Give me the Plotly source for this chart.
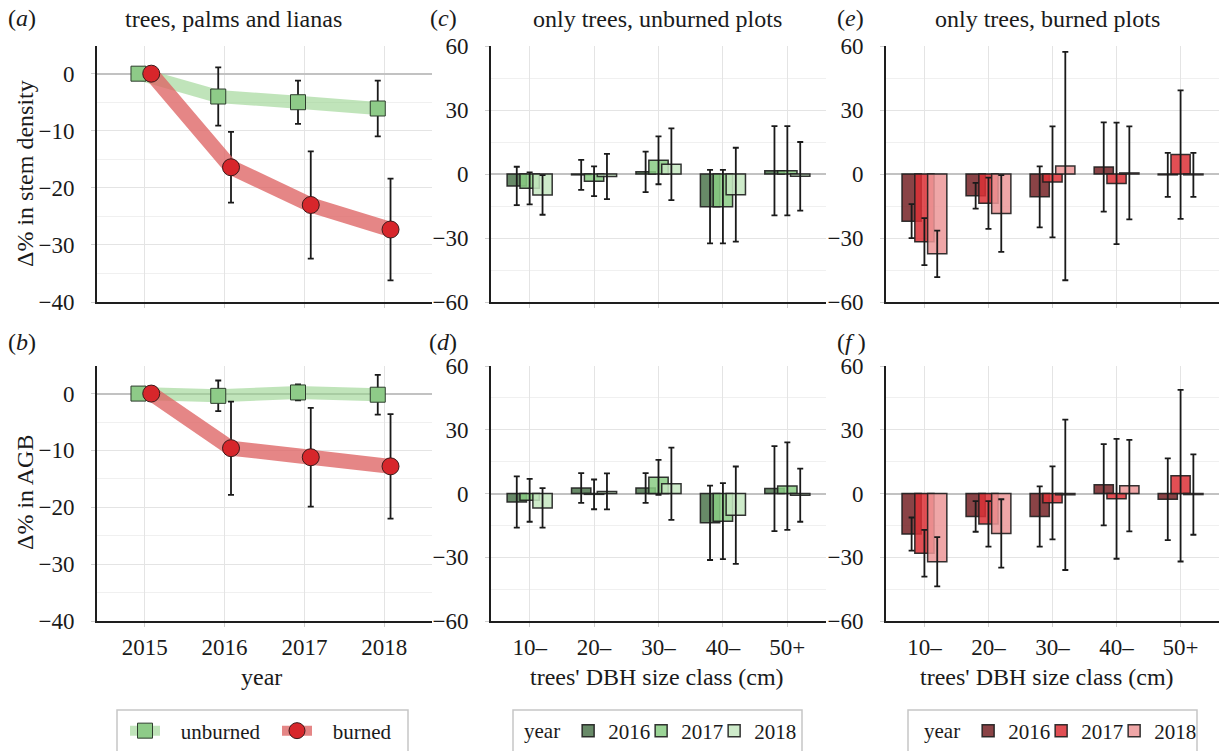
import plotly.graph_objects as go

# ---------------- data ----------------
years = [2015, 2016, 2017, 2018]
stem_unburned = [0, -4.0, -5.0, -6.1]
stem_unburned_err = [0, 5.1, 3.8, 4.9]
stem_burned = [0, -16.4, -23.0, -27.3]
stem_burned_err = [0, 6.2, 9.4, 8.9]
agb_unburned = [0, -0.4, 0.2, -0.2]
agb_unburned_err = [0, 2.7, 1.4, 3.5]
agb_burned = [0, -9.6, -11.2, -12.8]
agb_burned_err = [0, 8.2, 8.7, 9.2]

dbh_classes = ["10–", "20–", "30–", "40–", "50+"]
bar_years = ["2016", "2017", "2018"]

# (c) stem density, unburned
c_vals = {"2016": [-5.6, -0.4, 1.0, -15.3, 1.5],
          "2017": [-6.7, -3.4, 6.4, -15.3, 1.5],
          "2018": [-9.8, -1.2, 4.6, -9.7, -1.1]}
c_errs = {"2016": [9.0, 7.0, 9.5, 17.2, 20.9],
          "2017": [7.5, 7.0, 11.2, 17.2, 20.9],
          "2018": [9.3, 10.6, 16.8, 22.0, 16.1]}
# (d) AGB, unburned
d_vals = {"2016": [-4.0, 2.6, 2.6, -13.8, 2.3],
          "2017": [-3.2, -0.4, 7.6, -13.0, 3.5],
          "2018": [-6.8, 1.0, 4.6, -10.2, -0.8]}
d_errs = {"2016": [12.1, 7.0, 7.0, 17.5, 20.0],
          "2017": [10.1, 7.0, 8.2, 17.9, 20.6],
          "2018": [9.3, 8.5, 17.0, 22.9, 12.5]}
# (e) stem density, burned
e_vals = {"2016": [-22.1, -10.2, -10.7, 3.3, -0.4],
          "2017": [-31.7, -13.7, -3.7, -4.4, 9.1],
          "2018": [-37.4, -18.5, 3.7, 0.5, -0.4]}
e_errs = {"2016": [8.0, 6.0, 14.3, 20.9, 10.3],
          "2017": [11.0, 12.0, 26.0, 28.5, 30.1],
          "2018": [10.9, 18.0, 53.5, 21.8, 10.3]}
# (f) AGB, burned
f_vals = {"2016": [-19.1, -10.8, -10.8, 4.1, -2.7],
          "2017": [-28.1, -14.3, -4.4, -2.5, 8.4],
          "2018": [-32.1, -18.8, -0.6, 3.7, -0.5]}
f_errs = {"2016": [7.8, 7.2, 14.2, 19.1, 19.2],
          "2017": [11.0, 10.7, 17.2, 28.2, 40.4],
          "2018": [11.6, 16.1, 35.4, 21.5, 18.9]}

# ---------------- styles ----------------
W, H = 1219, 751
FONT = "Liberation Serif"
TXT = "#1a1a1a"
green_cols = {"2016": "rgba(78,118,78,0.85)", "2017": "rgba(138,204,132,0.85)", "2018": "rgba(198,231,193,0.85)"}
red_cols = {"2016": "rgba(118,34,38,0.85)", "2017": "rgba(220,48,54,0.85)", "2018": "rgba(236,150,152,0.85)"}
bar_offsets = {"2016": -0.35, "2017": -0.15, "2018": 0.05}
BAR_W = 0.3
DODGE = 0.08
PAD = "\u00a0\u00a0\u00a0"


def px_x(a, b):
    return [a / W, b / W]


def px_y(top, bottom):
    return [1 - bottom / H, 1 - top / H]


col_dom = [px_x(97, 432), px_x(491, 826), px_x(886, 1219)]
row_dom = [px_y(46, 302), px_y(366, 621)]

fig = go.Figure()

err_style = dict(type="data", visible=True, color="#1a1a1a", thickness=1.8, width=3)

# ---- panels a, b ----
line_panels = [
    ("x", "y", stem_unburned, stem_unburned_err, stem_burned, stem_burned_err, True),
    ("x4", "y4", agb_unburned, agb_unburned_err, agb_burned, agb_burned_err, False),
]
for xa, ya, ub, ube, b, be, show in line_panels:
    fig.add_trace(go.Scatter(
        x=[yr - DODGE for yr in years], y=ub, xaxis=xa, yaxis=ya,
        mode="lines+markers", name=PAD + "unburned", legend="legend", showlegend=show,
        line=dict(color="rgba(150,210,140,0.6)", width=13),
        marker=dict(symbol="square", size=15, color="#8ecb88", line=dict(color="#2d3d2d", width=1)),
        error_y=dict(array=ube, **err_style)))
    fig.add_trace(go.Scatter(
        x=[yr + DODGE for yr in years], y=b, xaxis=xa, yaxis=ya,
        mode="lines+markers", name=PAD + "burned", legend="legend", showlegend=show,
        line=dict(color="rgba(222,100,100,0.78)", width=15),
        marker=dict(symbol="circle", size=17, color="#d7262b", line=dict(color="#3a1a1a", width=1)),
        error_y=dict(array=be, **err_style)))

# ---- bar panels ----
bar_panels = [
    ("x2", "y2", c_vals, c_errs, green_cols, "legend2", True),
    ("x5", "y5", d_vals, d_errs, green_cols, "legend2", False),
    ("x3", "y3", e_vals, e_errs, red_cols, "legend3", True),
    ("x6", "y6", f_vals, f_errs, red_cols, "legend3", False),
]
for xa, ya, vals, errs, cols, leg, show in bar_panels:
    for yr in bar_years:
        fig.add_trace(go.Bar(
            x=dbh_classes, y=vals[yr], xaxis=xa, yaxis=ya, name=yr,
            legend=leg, showlegend=show,
            width=BAR_W, offset=bar_offsets[yr],
            marker=dict(color=cols[yr], line=dict(color="rgba(30,30,30,0.9)", width=1.5)),
            error_y=dict(array=errs[yr], **err_style)))
    if show:
        # invisible spacer entry so the last legend label is not clipped
        fig.add_trace(go.Bar(
            x=[dbh_classes[0]], y=[0], xaxis=xa, yaxis=ya, name="\u00a0", legend=leg,
            showlegend=True, hoverinfo="skip", width=BAR_W,
            marker=dict(color="rgba(0,0,0,0)", line=dict(width=0, color="rgba(0,0,0,0)"))))

# ---------------- axes ----------------
grid = "#e4e4e4"
minor_grid = "#f0f0f0"
axis_common = dict(showline=True, linecolor="#1e1e1e", linewidth=2, mirror=False,
                   gridcolor=grid, gridwidth=1, ticks="outside", ticklen=4, tickcolor="#cfcfcf",
                   tickfont=dict(family=FONT, size=23, color=TXT), automargin=False)

layout_axes = {}
axis_ids = [["", "2", "3"], ["4", "5", "6"]]
for r in range(2):
    for c in range(3):
        k = axis_ids[r][c]
        xname, yname = "xaxis" + k, "yaxis" + k
        anchor_x = "y" + k
        anchor_y = "x" + k
        if c == 0:
            xa = dict(axis_common, domain=col_dom[c], anchor=anchor_x, range=[2014.4, 2018.6],
                      tickmode="array", tickvals=years, ticktext=[str(v) for v in years],
                      showticklabels=(r == 1), zeroline=False)
            ya = dict(axis_common, domain=row_dom[r], anchor=anchor_y, range=[-40, 4.85],
                      tick0=0, dtick=10, zeroline=True, zerolinecolor="#c2c2c2", zerolinewidth=2,
                      minor=dict(dtick=5, showgrid=True, gridcolor=minor_grid, ticks=""))
        else:
            xa = dict(axis_common, domain=col_dom[c], anchor=anchor_x, type="category",
                      categoryorder="array", categoryarray=dbh_classes, range=[-0.6, 4.6],
                      showticklabels=(r == 1), zeroline=False)
            ya = dict(axis_common, domain=row_dom[r], anchor=anchor_y, range=[-60, 60],
                      tick0=0, dtick=30, zeroline=True, zerolinecolor="#c2c2c2", zerolinewidth=2,
                      minor=dict(dtick=15, showgrid=True, gridcolor=minor_grid, ticks=""))
        ya["ticklabelstandoff"] = 12
        xa["ticklabelstandoff"] = 0
        layout_axes[xname] = xa
        layout_axes[yname] = ya

# ---------------- annotations ----------------
ann = []


def add_text(text, x, y, size=24, angle=0, xanchor="center"):
    ann.append(dict(text=text, x=x / W, y=1 - y / H, xref="paper", yref="paper",
                    showarrow=False, textangle=angle, xanchor=xanchor, yanchor="middle",
                    font=dict(family=FONT, size=size, color=TXT)))


add_text("(<i>a</i>)", 22, 18)
add_text("(<i>b</i>)", 22, 342)
add_text("(<i>c</i>)", 443, 18)
add_text("(<i>d</i>)", 443, 342)
add_text("(<i>e</i>)", 850, 18)
add_text("(<i>f</i> )", 851, 342)
add_text("trees, palms and lianas", 233, 19)
add_text("only trees, unburned plots", 658, 19)
add_text("only trees, burned plots", 1047, 19)
add_text("Δ% in stem density", 25, 174, angle=-90)
add_text("Δ% in AGB", 25, 493, angle=-90)
add_text("year", 261, 677)
add_text("trees' DBH size class (cm)", 657, 677)
add_text("trees' DBH size class (cm)", 1047, 677)

# legend frames
shapes = []
for x0, x1 in [(117, 408), (513, 802), (908, 1197)]:
    shapes.append(dict(type="rect", xref="paper", yref="paper",
                       x0=x0 / W, x1=x1 / W, y0=-0.01, y1=1 - 710 / H,
                       line=dict(color="#c6c6c6", width=1.5), fillcolor="rgba(0,0,0,0)"))

leg_common = dict(orientation="h", yanchor="middle", xanchor="left", y=1 - 731 / H,
                  borderwidth=0, bgcolor="rgba(255,255,255,0)",
                  font=dict(family=FONT, size=21, color=TXT), itemwidth=30)
leg_title = dict(text="year", side="left", font=dict(family=FONT, size=21, color=TXT))

fig.update_layout(
    width=W, height=H, margin=dict(l=0, r=0, t=0, b=0, autoexpand=False),
    paper_bgcolor="white", plot_bgcolor="white",
    barmode="overlay", showlegend=True,
    font=dict(family=FONT, color=TXT),
    annotations=ann, shapes=shapes,
    legend=dict(leg_common, x=125 / W, entrywidth=107),
    legend2=dict(leg_common, x=522 / W, entrywidth=28, title=leg_title),
    legend3=dict(leg_common, x=922 / W, entrywidth=28, title=leg_title),
    **layout_axes,
)

fig.write_html("out.html")
